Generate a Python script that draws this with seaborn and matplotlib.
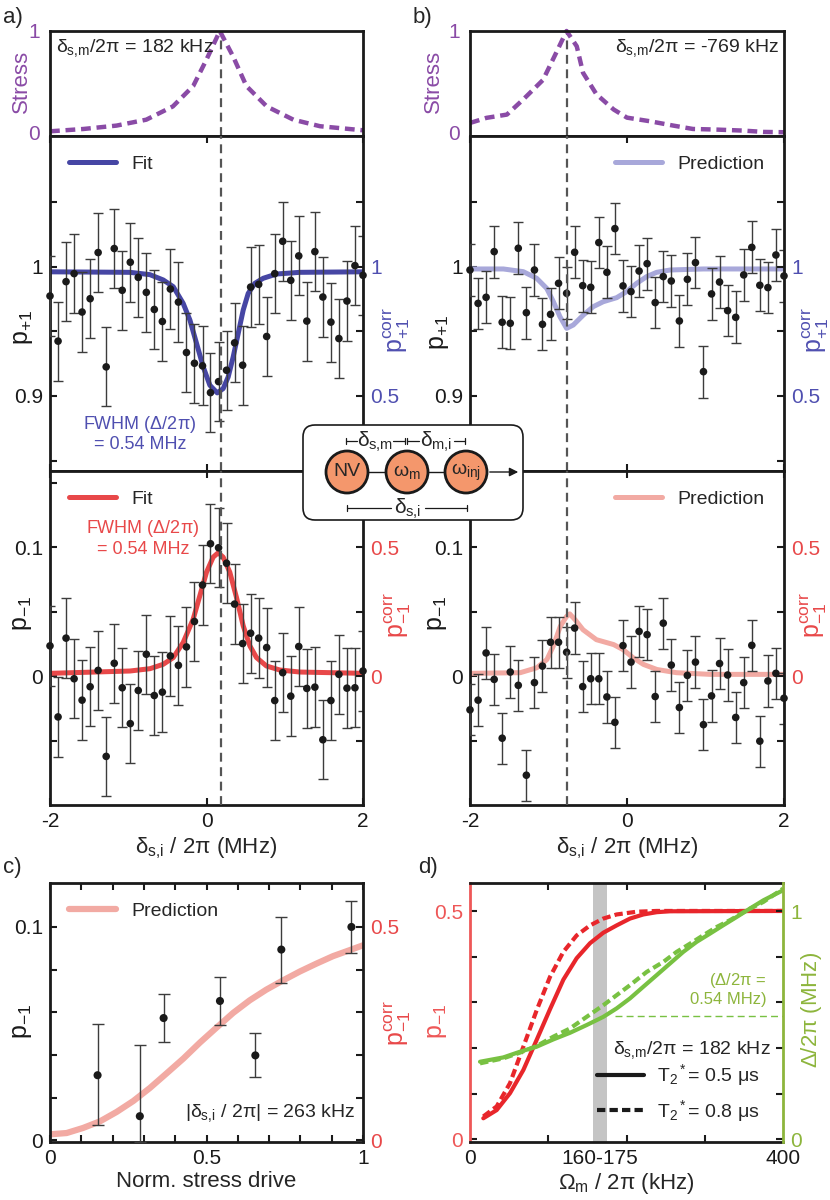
import matplotlib
matplotlib.use("Agg")
import matplotlib.pyplot as plt
import seaborn as sns
from matplotlib.lines import Line2D
from matplotlib.patches import FancyBboxPatch, Circle

# ---------------- values ----------------
# common detuning grid of the scans (MHz)
x_scan = [-2.000, -1.897, -1.795, -1.692, -1.590, -1.487, -1.385, -1.282, -1.179, -1.077,
          -0.974, -0.872, -0.769, -0.667, -0.564, -0.462, -0.359, -0.256, -0.154, -0.051,
          0.051, 0.154, 0.256, 0.359, 0.462, 0.564, 0.667, 0.769, 0.872, 0.974,
          1.077, 1.179, 1.282, 1.385, 1.487, 1.590, 1.692, 1.795, 1.897, 2.000]

# panel a
a_p1 = [0.9773, 0.9424, 0.9884, 0.9946, 0.9649, 0.9752, 1.0109, 0.9225, 1.0140, 0.9817,
        1.0034, 0.9917, 0.9801, 0.9669, 0.9576, 0.9827, 0.9726, 0.9336, 0.9253, 0.9233,
        0.9026, 0.9111, 0.9199, 0.9411, 0.9238, 0.9842, 0.9863, 0.9460, 0.9946, 1.0196,
        0.9894, 1.0083, 0.9579, 1.0116, 0.9765, 0.9571, 0.9444, 0.9734, 1.0008, 0.9933]
a_p1_err = 0.0306
a_m1 = [0.0234, -0.0317, 0.0294, -0.0021, -0.0187, -0.0083, 0.0044, -0.0623, 0.0099, -0.0091,
        -0.0369, -0.0112, 0.0169, -0.0151, -0.0125, 0.0156, 0.0083, 0.0226, 0.0423, 0.0706,
        0.1026, 0.0995, 0.0875, 0.0558, 0.0252, 0.0332, 0.0294, 0.0221, -0.0190, 0.0026,
        -0.0156, 0.0229, -0.0096, -0.0086, -0.0494, -0.0190, 0.0013, -0.0094, -0.0091, 0.0039]
a_m1_err = 0.0308

a_stress_x = [-2.0, -1.57, -1.15, -0.77, -0.43, -0.17, 0.00, 0.17, 0.34, 0.51, 0.77, 1.11, 1.45, 2.0]
a_stress_y = [0.016, 0.039, 0.072, 0.13, 0.26, 0.46, 0.72, 1.0, 0.75, 0.46, 0.26, 0.13, 0.066, 0.026]

a_fit_p1_x = [-2.0, -0.978, -0.723, -0.553, -0.425, -0.298, -0.212, -0.127, -0.042, 0.043, 0.137,
              0.213, 0.277, 0.341, 0.405, 0.469, 0.533, 0.618, 0.725, 0.895, 1.193, 2.0]
a_fit_p1_y = [0.9960, 0.9956, 0.9938, 0.9897, 0.9845, 0.9716, 0.9587, 0.9406, 0.9225, 0.9083, 0.9024,
              0.9057, 0.9147, 0.9302, 0.9483, 0.9664, 0.9793, 0.9871, 0.9910, 0.9943, 0.9956, 0.9960]

a_fit_m1_x = [-2.0, -0.978, -0.723, -0.553, -0.425, -0.298, -0.170, -0.085, 0.000, 0.085, 0.149,
              0.213, 0.298, 0.383, 0.469, 0.554, 0.639, 0.766, 0.936, 1.193, 2.0]
a_fit_m1_y = [0.0021, 0.0039, 0.0057, 0.0091, 0.0143, 0.0260, 0.0442, 0.0623, 0.0805, 0.0922, 0.0956,
              0.0922, 0.0805, 0.0610, 0.0390, 0.0234, 0.0143, 0.0078, 0.0047, 0.0031, 0.0021]

# panel b
b_p1 = [0.9974, 0.9716, 0.9763, 1.0116, 0.9570, 0.9562, 1.0142, 0.9644, 0.9974, 0.9554,
        0.9631, 0.9871, 0.9794, 1.0111, 0.9853, 0.9840, 1.0186, 0.9956, 1.0294, 0.9851,
        0.9807, 0.9966, 1.0023, 0.9722, 0.9923, 0.9889, 0.9580, 0.9902, 1.0031, 0.9188,
        0.9789, 0.9881, 0.9660, 0.9608, 0.9936, 1.0149, 0.9856, 0.9838, 1.0090, 0.9928]
b_p1_err = 0.020
b_m1 = [-0.0262, -0.0187, 0.0179, -0.0026, -0.0482, 0.0031, -0.0072, -0.0769, -0.0051, 0.0077,
        0.0262, 0.0262, 0.0185, 0.0372, -0.0082, -0.0021, -0.0021, -0.0162, -0.0359, 0.0236,
        0.0108, 0.0346, 0.0321, -0.0159, 0.0410, 0.0085, -0.0244, 0.0005, 0.0108, -0.0377,
        -0.0154, 0.0097, 0.0008, -0.0321, -0.0051, 0.0238, -0.0505, -0.0038, 0.0021, -0.0172]
b_m1_err = 0.0199

b_stress_x = [-2.0, -1.79, -1.53, -1.32, -1.07, -0.90, -0.77, -0.64, -0.56, -0.39, -0.17,
              0.00, 0.29, 0.59, 0.84, 1.14, 1.48, 1.74, 2.0]
b_stress_y = [0.098, 0.148, 0.18, 0.33, 0.52, 0.79, 1.0, 0.85, 0.59, 0.38, 0.23,
              0.15, 0.115, 0.072, 0.039, 0.033, 0.023, 0.01, 0.007]

b_pred_p1_x = [-2.0, -1.575, -1.321, -1.151, -1.023, -0.938, -0.854, -0.769, -0.684, -0.556,
               -0.429, -0.302, -0.132, -0.004, 0.123, 0.251, 0.378, 0.548, 0.972, 2.0]
b_pred_p1_y = [0.9982, 0.9982, 0.9961, 0.9910, 0.9832, 0.9729, 0.9613, 0.9523, 0.9549, 0.9626,
               0.9691, 0.9729, 0.9760, 0.9807, 0.9871, 0.9923, 0.9956, 0.9974, 0.9982, 0.9982]

b_pred_m1_x = [-2.0, -1.36, -1.15, -1.02, -0.94, -0.85, -0.77, -0.73, -0.66, -0.56, -0.39,
               -0.17, -0.05, 0.08, 0.21, 0.38, 0.63, 1.06, 2.0]
b_pred_m1_y = [0.0021, 0.0026, 0.0064, 0.0128, 0.0231, 0.0385, 0.0462, 0.0482, 0.0436, 0.0359,
               0.0282, 0.0244, 0.0205, 0.0141, 0.0090, 0.0051, 0.0026, 0.0013, 0.0013]

delta_sm_a = 0.182
delta_sm_b = -0.769

# panel c
c_drive = [0.152, 0.287, 0.363, 0.543, 0.656, 0.739, 0.963]
c_m1 = [0.0305, 0.0113, 0.0573, 0.0653, 0.0398, 0.0894, 0.1000]
c_err_top = [0.0547, 0.0448, 0.0688, 0.0766, 0.0503, 0.1047, 0.1122]
c_err_bot = [0.0070, -0.0008, 0.0459, 0.0539, 0.0297, 0.0739, 0.0878]
c_pred_x = [0.0, 0.053, 0.106, 0.160, 0.213, 0.266, 0.319, 0.372, 0.426, 0.479,
            0.532, 0.585, 0.638, 0.691, 0.745, 0.798, 0.851, 0.904, 0.957, 1.0]
c_pred_y = [0.0028, 0.0034, 0.0058, 0.0089, 0.0133, 0.0184, 0.0245, 0.0313, 0.0383, 0.0458,
            0.0528, 0.0597, 0.0656, 0.0706, 0.0750, 0.0791, 0.0828, 0.0863, 0.0891, 0.0914]

# panel d
d_red_solid_x = [17.0, 34.1, 51.1, 68.2, 85.2, 102.2, 119.3, 136.3, 153.4, 170.4, 187.4, 204.5,
                 221.5, 238.6, 255.6, 400.0]
d_red_solid_y = [0.046, 0.064, 0.101, 0.152, 0.218, 0.285, 0.350, 0.397, 0.430, 0.453, 0.469,
                 0.484, 0.493, 0.498, 0.500, 0.5007]
d_red_dash_x = [17.0, 34.1, 51.1, 68.2, 85.2, 102.2, 119.3, 136.3, 153.4, 170.4, 187.4, 213.0,
                238.6, 400.0]
d_red_dash_y = [0.050, 0.072, 0.123, 0.203, 0.283, 0.356, 0.411, 0.447, 0.469, 0.484, 0.493,
                0.499, 0.5007, 0.5007]
d_green_solid_x = [12.8, 42.6, 63.9, 85.2, 106.5, 127.8, 149.1, 170.4, 187.4, 204.5, 221.5,
                   238.6, 255.6, 272.6, 289.7, 306.7, 323.8, 340.8, 357.8, 374.9, 400.0]
d_green_solid_y = [0.340, 0.359, 0.384, 0.406, 0.438, 0.467, 0.501, 0.537, 0.574, 0.618, 0.669,
                   0.720, 0.771, 0.822, 0.866, 0.902, 0.939, 0.975, 1.012, 1.048, 1.092]
d_green_dash_x = [12.8, 42.6, 63.9, 85.2, 106.5, 127.8, 149.1, 170.4, 187.4, 204.5, 225.8,
                  247.1, 264.1, 281.2, 298.2, 315.2, 332.3, 353.6, 374.9, 400.0]
d_green_dash_y = [0.333, 0.355, 0.380, 0.409, 0.450, 0.486, 0.537, 0.588, 0.632, 0.676, 0.734,
                  0.778, 0.822, 0.858, 0.895, 0.931, 0.961, 1.004, 1.041, 1.099]
d_band = (157, 175)
d_fwhm = 0.54

# ---------------- style ----------------
sns.set_theme(style="ticks")
plt.rcParams["font.family"] = ["Liberation Sans", "DejaVu Sans"]
plt.rcParams["mathtext.fontset"] = "custom"
plt.rcParams["mathtext.rm"] = "Liberation Sans"
plt.rcParams["mathtext.it"] = "Liberation Sans"
plt.rcParams["mathtext.sf"] = "Liberation Sans"

PURPLE = "#8a4ba6"
BLUE = "#4646a4"
BLUE_AX = "#4f4fb0"
BLUE_LIGHT = "#a8a8da"
RED = "#e84849"
PINK = "#f2aaa3"
RED_D = "#e8262b"
RED_AX = "#ee5757"
GREEN = "#78c142"
GREEN_AX = "#8db53c"
DASH_GRAY = "#555555"
TICK_FS = 15

W, H = 830, 1200
fig = plt.figure(figsize=(W / 100, H / 100), dpi=100)


def px_axes(l, t, r, b):
    return fig.add_axes([l / W, 1 - b / H, (r - l) / W, (b - t) / H])


def frame(ax):
    for s in ax.spines.values():
        s.set_linewidth(2.0)
        s.set_color("k")
    ax.tick_params(which="both", direction="in", width=1.5, length=5, labelsize=TICK_FS,
                   top=True, bottom=True, left=True, right=False, pad=5, colors="k")


def right_axis(ax, factor, offset, major, labels, minor, color, label, pos, edge="k", fs=18):
    tw = ax.twinx()
    lo, hi = ax.get_ylim()
    tw.set_ylim((lo - offset) / factor, (hi - offset) / factor)
    tw.set_yticks(major, labels=labels)
    tw.set_yticks(minor, minor=True)
    for s in ["left", "top", "bottom"]:
        tw.spines[s].set_visible(False)
    tw.spines["right"].set_linewidth(2.0)
    tw.spines["right"].set_color(edge)
    ax.spines["right"].set_visible(False)
    tw.tick_params(which="both", direction="in", length=5, width=1.5, labelsize=TICK_FS,
                   labelcolor=color, color="k", pad=5)
    tw.set_ylabel(label, color=color, fontsize=fs, rotation=90, va="center", ha="center")
    tw.yaxis.set_label_coords(*pos)
    return tw


def scan(ax, y, err, cx, cy, color, label):
    sns.lineplot(x=cx, y=cy, ax=ax, color=color, lw=3.6, estimator=None, label=label,
                 zorder=2)
    ax.errorbar(x_scan, y, yerr=err, fmt="none", ecolor="#3c3c3c", elinewidth=1.0,
                capsize=3.5, capthick=1.0, zorder=3)
    sns.scatterplot(x=x_scan, y=y, ax=ax, color="k", s=30, edgecolor="none", zorder=4,
                    legend=False, clip_on=False)


def left_label(ax, text, pos, color="k", fs=18):
    ax.set_ylabel(text, fontsize=fs, color=color, va="center", ha="center")
    ax.yaxis.set_label_coords(*pos)


def stress_panel(ax, sx, sy, dsm, lab_x):
    sns.lineplot(x=sx, y=sy, ax=ax, color=PURPLE, lw=3.2, estimator=None,
                 linestyle=(0, (2.2, 1.3)), clip_on=False)
    ax.axvline(dsm, color=DASH_GRAY, lw=1.6, ls=(0, (4, 2.5)), zorder=1)
    ax.set_xlim(-2, 2)
    ax.set_ylim(-0.03, 1.0)
    frame(ax)
    ax.tick_params(which="both", length=0, top=False, bottom=False, labelbottom=False,
                   labelcolor=PURPLE, pad=7)
    ax.set_yticks([0, 1], labels=["0", "1"])
    left_label(ax, "Stress", (lab_x, 0.52), color=PURPLE, fs=16)


def p1_panel(ax, y, err, cx, cy, color, axcolor, label, dsm, legloc, lpos, rpos):
    scan(ax, y, err, cx, cy, color, label)
    ax.axvline(dsm, color=DASH_GRAY, lw=1.6, ls=(0, (4, 2.5)), zorder=5)
    ax.set_xlim(-2, 2)
    ax.set_ylim(0.842, 1.101)
    frame(ax)
    ax.set_xticks([-2, 0, 2])
    ax.tick_params(labelbottom=False)
    ax.set_yticks([0.9, 1.0], labels=["0.9", "1"])
    ax.set_yticks([0.85, 0.95, 1.05], minor=True)
    left_label(ax, r"p$_{+1}$", lpos)
    ax.legend(loc=legloc, frameon=False, fontsize=14, handlelength=2.4, handletextpad=0.8,
              borderaxespad=0.6)
    right_axis(ax, 0.2, 0.8, [0.5, 1.0], ["0.5", "1"], [0.25, 0.75, 1.25], axcolor,
               r"p$^{\mathrm{corr}}_{+1}$", rpos)


def m1_panel(ax, y, err, cx, cy, color, axcolor, label, dsm, legloc, lpos, rpos):
    scan(ax, y, err, cx, cy, color, label)
    ax.axvline(dsm, color=DASH_GRAY, lw=1.6, ls=(0, (4, 2.5)), zorder=5)
    ax.set_xlim(-2, 2)
    ax.set_ylim(-0.100, 0.159)
    frame(ax)
    ax.set_xticks([-2, 0, 2], labels=["-2", "0", "2"])
    ax.set_yticks([0.0, 0.1], labels=["0", "0.1"])
    ax.set_yticks([-0.05, 0.05, 0.15], minor=True)
    left_label(ax, r"p$_{-1}$", lpos)
    ax.set_xlabel(r"$\delta_{\mathrm{s{,}i}}$ / 2$\pi$ (MHz)", fontsize=16, labelpad=3)
    ax.legend(loc=legloc, frameon=False, fontsize=14, handlelength=2.4, handletextpad=0.8,
              borderaxespad=0.6)
    right_axis(ax, 0.2, 0.0, [0.0, 0.5], ["0", "0.5"], [-0.25, 0.25], axcolor,
               r"p$^{\mathrm{corr}}_{-1}$", rpos)


# ---------------- panel a ----------------
ax_as = px_axes(50, 31, 363, 136)
stress_panel(ax_as, a_stress_x, a_stress_y, delta_sm_a, -0.09)
ax_as.text(0.02, 0.84, r"$\delta_{\mathrm{s{,}m}}/2\pi$ = 182 kHz", transform=ax_as.transAxes,
           fontsize=14, va="center", ha="left")

ax_am = px_axes(50, 136, 363, 471)
p1_panel(ax_am, a_p1, a_p1_err, a_fit_p1_x, a_fit_p1_y, BLUE, BLUE_AX, "Fit", delta_sm_a,
         "upper left", (-0.085, 0.43), (1.108, 0.42))
ax_am.text(-0.85, 0.871, "FWHM ($\\Delta$/2$\\pi$)\n= 0.54 MHz", color=BLUE_AX, fontsize=13,
           ha="center", va="center", linespacing=1.15)

ax_ab = px_axes(50, 471, 363, 805)
m1_panel(ax_ab, a_m1, a_m1_err, a_fit_m1_x, a_fit_m1_y, RED, RED, "Fit", delta_sm_a,
         "upper left", (-0.09, 0.575), (1.11, 0.57))
ax_ab.text(-0.81, 0.107, "FWHM ($\\Delta$/2$\\pi$)\n= 0.54 MHz", color=RED, fontsize=13,
           ha="center", va="center", linespacing=1.15)

# ---------------- panel b ----------------
ax_bs = px_axes(470, 31, 784, 136)
stress_panel(ax_bs, b_stress_x, b_stress_y, delta_sm_b, -0.115)
ax_bs.text(0.985, 0.84, r"$\delta_{\mathrm{s{,}m}}/2\pi$ = -769 kHz", transform=ax_bs.transAxes,
           fontsize=14, va="center", ha="right")

ax_bm = px_axes(470, 136, 784, 471)
p1_panel(ax_bm, b_p1, b_p1_err, b_pred_p1_x, b_pred_p1_y, BLUE_LIGHT, BLUE_AX, "Prediction",
         delta_sm_b, "upper right", (-0.10, 0.415), (1.10, 0.42))

ax_bb = px_axes(470, 471, 784, 805)
m1_panel(ax_bb, b_m1, b_m1_err, b_pred_m1_x, b_pred_m1_y, PINK, RED, "Prediction",
         delta_sm_b, "upper right", (-0.105, 0.575), (1.096, 0.57))

# ---------------- panel c ----------------
ax_c = px_axes(50, 883, 363, 1142)
sns.lineplot(x=c_pred_x, y=c_pred_y, ax=ax_c, color=PINK, lw=4.5, estimator=None,
             label="Prediction", zorder=2)
c_lo = [m - b for m, b in zip(c_m1, c_err_bot)]
c_hi = [t - m for m, t in zip(c_m1, c_err_top)]
ax_c.errorbar(c_drive, c_m1, yerr=[c_lo, c_hi], fmt="none", ecolor="#3c3c3c", elinewidth=1.0,
              capsize=4, capthick=1.0, zorder=3)
sns.scatterplot(x=c_drive, y=c_m1, ax=ax_c, color="k", s=34, edgecolor="none", zorder=4,
                legend=False)
ax_c.set_xlim(0, 1)
ax_c.set_ylim(-0.0008, 0.1206)
frame(ax_c)
ax_c.set_xticks([0, 0.5, 1], labels=["0", "0.5", "1"])
ax_c.set_xticks([0.1, 0.2, 0.3, 0.4, 0.6, 0.7, 0.8, 0.9], minor=True)
ax_c.set_yticks([0, 0.1], labels=["0", "0.1"])
ax_c.set_yticks([0.02, 0.04, 0.06, 0.08], minor=True)
ax_c.set_xlabel("Norm. stress drive", fontsize=16, labelpad=2)
left_label(ax_c, r"p$_{-1}$", (-0.09, 0.467))
ax_c.legend(loc="upper left", frameon=False, fontsize=14, handlelength=2.4,
            handletextpad=0.8, borderaxespad=0.6)
ax_c.text(0.975, 0.11, r"|$\delta_{\mathrm{s{,}i}}$ / 2$\pi$| = 263 kHz", transform=ax_c.transAxes,
          fontsize=14, ha="right", va="center")
right_axis(ax_c, 0.2, 0.0, [0.0, 0.5], ["0", "0.5"], [0.1, 0.2, 0.3, 0.4], RED,
           r"p$^{\mathrm{corr}}_{-1}$", (1.11, 0.46))

# ---------------- panel d ----------------
ax_d = px_axes(470, 883, 783, 1142)
ax_d.axvspan(*d_band, color="#c4c4c4", lw=0, zorder=0)
sns.lineplot(x=d_red_solid_x, y=d_red_solid_y, ax=ax_d, color=RED_D, lw=3.0, estimator=None)
sns.lineplot(x=d_red_dash_x, y=d_red_dash_y, ax=ax_d, color=RED_D, lw=3.0, estimator=None,
             linestyle=(0, (2.0, 1.0)))
ax_d.set_xlim(0, 400)
ax_d.set_ylim(-0.006, 0.562)
frame(ax_d)
ax_d.spines["left"].set_color(RED_AX)
ax_d.set_xticks([0, 166, 400], labels=["0", "160-175", "400"])
ax_d.set_xticks([100, 200, 300], minor=True)
ax_d.tick_params(which="major", axis="x", length=0)
ax_d.set_yticks([0, 0.5], labels=["0", "0.5"])
ax_d.set_yticks([0.1, 0.2, 0.3, 0.4], minor=True)
ax_d.tick_params(axis="y", labelcolor=RED_AX)
left_label(ax_d, r"p$_{-1}$", (-0.105, 0.467), color=RED_AX)
ax_d.set_xlabel(r"$\Omega_{\mathrm{m}}$ / 2$\pi$ (kHz)", fontsize=16, labelpad=2)
tw_d = right_axis(ax_d, 0.5, 0.0, [0, 1], ["0", "1"], [0.2, 0.4, 0.6, 0.8], GREEN_AX,
                  r"$\Delta$/2$\pi$ (MHz)", (1.09, 0.51), edge=GREEN_AX, fs=16)
sns.lineplot(x=d_green_solid_x, y=d_green_solid_y, ax=tw_d, color=GREEN, lw=3.0, estimator=None)
sns.lineplot(x=d_green_dash_x, y=d_green_dash_y, ax=tw_d, color=GREEN, lw=3.0, estimator=None,
             linestyle=(0, (2.0, 1.0)))
tw_d.hlines(d_fwhm, 185, 400, color=GREEN, lw=1.0, linestyles=(0, (5, 3)))
tw_d.text(379, 0.66, "($\\Delta$/2$\\pi$ =\n0.54 MHz)", color=GREEN_AX, fontsize=12,
          ha="right", va="center", multialignment="right", linespacing=1.2)
tw_d.set_xlim(0, 400)
ax_d.text(0.96, 0.355, r"$\delta_{\mathrm{s{,}m}}/2\pi$ = 182 kHz", transform=ax_d.transAxes,
          fontsize=14, ha="right", va="center")
handles = [Line2D([], [], color="k", lw=3.0),
           Line2D([], [], color="k", lw=3.0, ls=(0, (2.0, 1.0)))]
ax_d.legend(handles, [r"T$_2$$^*$= 0.5 $\mu$s", r"T$_2$$^*$= 0.8 $\mu$s"],
            loc="lower right", bbox_to_anchor=(0.95, 0.04), frameon=False, fontsize=14,
            handlelength=2.4, handletextpad=0.7, borderaxespad=0, labelspacing=0.5)

# ---------------- inset sketch ----------------
ins = fig.add_axes([300 / W, 1 - 524 / H, 227 / W, 102 / H])
ins.set_zorder(20)
ins.set_xlim(300, 527)
ins.set_ylim(524, 422)
ins.axis("off")
ins.add_patch(FancyBboxPatch((303, 425), 220, 95, boxstyle="round,pad=0,rounding_size=12",
                             fc="white", ec="k", lw=1.2))
ins.plot([347, 466], [472, 472], color="k", lw=1.0, zorder=1)
ins.annotate("", xy=(521, 472), xytext=(487, 472),
             arrowprops=dict(arrowstyle="-|>", lw=1.0, color="k", mutation_scale=13))
for cx, txt in zip([347, 407, 466], ["NV", r"$\omega_{\mathrm{m}}$", r"$\omega_{\mathrm{inj}}$"]):
    ins.add_patch(Circle((cx, 472), 21, fc="#f4976c", ec="k", lw=2.0, zorder=2))
    ins.text(cx, 472, txt, ha="center", va="center", fontsize=14, zorder=3)
for (x0, x1), (t0, t1), lab, yb in [((346, 357), (393, 405), r"$\delta_{\mathrm{s{,}m}}$", 441),
                                     ((407, 419), (454, 465), r"$\delta_{\mathrm{m{,}i}}$", 441),
                                     ((347, 391), (425, 467), r"$\delta_{\mathrm{s{,}i}}$", 508)]:
    ins.plot([x0, x1], [yb, yb], color="k", lw=0.9)
    ins.plot([t0, t1], [yb, yb], color="k", lw=0.9)
    ins.plot([x0, x0], [yb - 3, yb + 3], color="k", lw=0.9)
    ins.plot([t1, t1], [yb - 3, yb + 3], color="k", lw=0.9)
    ins.text((x1 + t0) / 2, yb + 1, lab, ha="center", va="center", fontsize=15)

# ---------------- panel letters ----------------
for txt, x, y in [("a)", 3, 18), ("b)", 413, 18), ("c)", 3, 868), ("d)", 418, 868)]:
    fig.text(x / W, 1 - y / H, txt, fontsize=16, ha="left", va="center")

fig.savefig("out.png", dpi=100)
